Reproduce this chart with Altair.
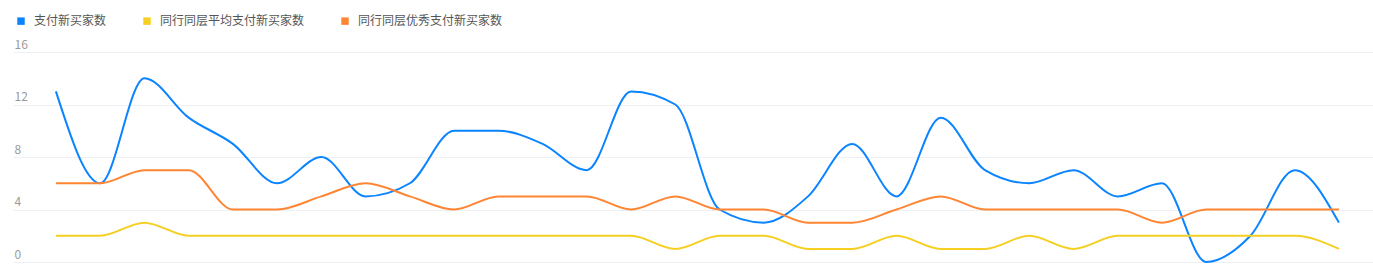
import altair as alt
import pandas as pd

series_names = ["支付新买家数", "同行同层平均支付新买家数", "同行同层优秀支付新买家数"]
colors = ["#0A84FF", "#F5CF22", "#FF8533"]

buyers = [13, 6, 14, 11, 9, 6, 8, 5, 6, 10, 10, 9, 7, 13, 12, 4, 3, 5, 9, 5, 11, 7, 6, 7, 5, 6, 0, 2, 7, 3]
peer_avg = [2, 2, 3, 2, 2, 2, 2, 2, 2, 2, 2, 2, 2, 2, 1, 2, 2, 1, 1, 2, 1, 1, 2, 1, 2, 2, 2, 2, 2, 1]
peer_top = [6, 6, 7, 7, 4, 4, 5, 6, 5, 4, 5, 5, 5, 4, 5, 4, 4, 3, 3, 4, 5, 4, 4, 4, 4, 3, 4, 4, 4, 4]
y_ticks = [0, 4, 8, 12, 16]

rows = []
for name, vals in zip(series_names, [buyers, peer_avg, peer_top]):
    for i, v in enumerate(vals):
        rows.append({"idx": i, "value": v, "series": name})
df = pd.DataFrame(rows)

FONT = "Noto Sans CJK SC"

chart = alt.Chart(df).mark_line(
    interpolate="monotone", strokeWidth=2
).encode(
    x=alt.X("idx:Q", scale=alt.Scale(domain=[-0.97, 29.77], nice=False, zero=False), axis=None),
    y=alt.Y(
        "value:Q",
        scale=alt.Scale(domain=[0, 16], nice=False),
        axis=alt.Axis(
            values=y_ticks, title=None, domain=False, ticks=False, tickSize=0,
            labelAlign="left", labelBaseline="alphabetic", labelPadding=-1,
            labelOffset=-4, labelFontSize=12, labelColor="#9A9A9A", labelFont=FONT,
            gridColor="#EEF0F3", gridWidth=1, labelOverlap=False,
        ),
    ),
    color=alt.Color(
        "series:N",
        scale=alt.Scale(domain=series_names, range=colors),
        sort=series_names,
        legend=alt.Legend(
            title=None, orient="none", legendX=2, legendY=-37, direction="horizontal",
            symbolType="square", symbolSize=12, symbolStrokeWidth=4, symbolOpacity=1,
            labelFontSize=12, labelFont=FONT, labelColor="#555555", labelOffset=7,
            columnPadding=30, padding=0,
        ),
    ),
).properties(
    width=1360, height=210,
    autosize=alt.AutoSizeParams(type="none"),
    padding={"left": 13, "top": 52, "right": 0, "bottom": 2},
).configure_view(stroke=None)

chart.save("out.html", embed_options={"renderer": "svg", "actions": False})
